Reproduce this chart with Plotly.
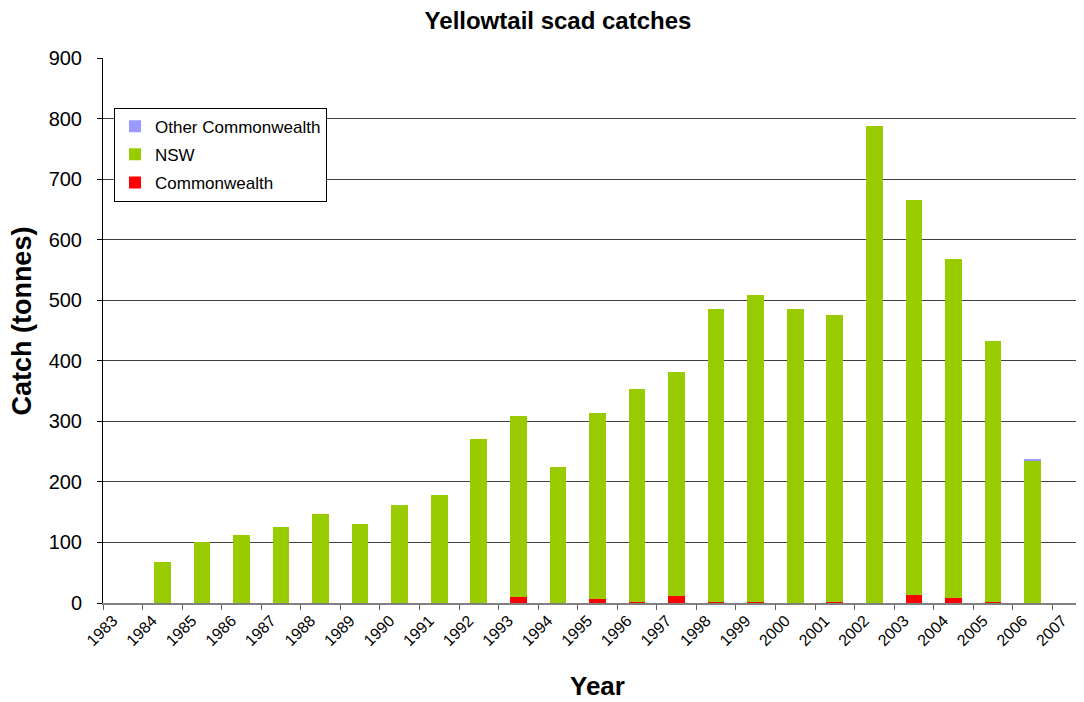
import plotly.graph_objects as go

years = list(range(1983, 2008))
year_labels = [str(y) for y in years]

commonwealth = [0, 0, 0, 0, 0, 0, 0, 0, 0, 0, 10, 0, 6, 1, 11, 1, 1, 0, 1, 0, 13, 8, 1, 0, 0]
nsw = [0, 67, 100, 113, 126, 147, 131, 162, 179, 271, 298, 224, 307, 353, 371, 485, 508, 485, 474, 788, 653, 560, 431, 235, 0]
other_commonwealth = [0] * 23 + [3, 0]

y_ticks = [0, 100, 200, 300, 400, 500, 600, 700, 800, 900]

FONT = "Liberation Sans, Arial, sans-serif"

fig = go.Figure()
fig.add_trace(go.Bar(x=years, y=commonwealth, name="Commonwealth", legendgroup="c", legendrank=3,
                     marker=dict(color="#FF0000", line=dict(width=0))))
fig.add_trace(go.Bar(x=years, y=nsw, name="NSW", legendgroup="n", legendrank=2,
                     marker=dict(color="#99CC00", line=dict(width=0))))
fig.add_trace(go.Bar(x=years, y=other_commonwealth, name="Other Commonwealth", legendgroup="o", legendrank=1,
                     marker=dict(color="#9999FF", line=dict(width=0))))

# the page body adds an 8px offset; lay out in screen coordinates minus that offset
OFF = 8
W, H = 1084 - OFF, 702 - OFF
plot_left, plot_top, plot_bottom = 103 - OFF, 58.3 - OFF, 603.5 - OFF
ml, mr, mt, mb = plot_left, 0, plot_top, H - plot_bottom
pw = W - ml - mr
ph = H - mt - mb


def px_x(sx):
    return (sx - OFF - ml) / pw


def px_y(sy):
    return (plot_bottom - (sy - OFF)) / ph


fig.update_layout(
    width=W, height=H,
    barmode="stack", bargap=0.58,
    plot_bgcolor="white", paper_bgcolor="white",
    margin=dict(l=ml, r=mr, t=mt, b=mb, pad=0, autoexpand=False),
    font=dict(family=FONT, color="black"),
    title=dict(text="<b>Yellowtail scad catches</b>", x=(558 - OFF) / W, xref="container", xanchor="center",
               y=1 - (21 - OFF) / H, yref="container", yanchor="middle", font=dict(size=24, family=FONT)),
    showlegend=True,
    legend=dict(x=px_x(114), y=px_y(108), xanchor="left", yanchor="top",
                traceorder="grouped", bordercolor="black", borderwidth=1, bgcolor="white",
                font=dict(size=17, family=FONT), tracegroupgap=3, itemwidth=30),
    xaxis=dict(
        range=[1982.5, 2007.3], tickmode="array",
        tickvals=[y - 0.25 for y in years], ticktext=year_labels,
        tickangle=-45, ticks="", tickfont=dict(size=16, family=FONT),
        showgrid=False, zeroline=False, showline=True, linecolor="#808080", linewidth=2,
        minor=dict(tick0=0.5, dtick=1, ticks="outside", ticklen=5, tickcolor="#606060", tickwidth=1, showgrid=False),
    ),
    yaxis=dict(
        range=[0, 900], tickmode="array", tickvals=y_ticks,
        ticks="outside", ticklen=5, tickcolor="black", tickwidth=1,
        tickfont=dict(size=20, family=FONT), ticklabelstandoff=11,
        showgrid=True, gridcolor="#404040", gridwidth=1,
        zeroline=False, showline=True, linecolor="black", linewidth=1,
    ),
    annotations=[
        dict(text="<b>Year</b>", x=px_x(597), y=px_y(687), xref="paper", yref="paper", showarrow=False,
             xanchor="center", yanchor="middle", font=dict(size=26, family=FONT)),
        dict(text="<b>Catch (tonnes)</b>", textangle=-90, x=px_x(22), y=px_y(322), xref="paper", yref="paper",
             showarrow=False, xanchor="center", yanchor="middle", font=dict(size=27, family=FONT)),
    ],
)

fig.write_html("out.html")
